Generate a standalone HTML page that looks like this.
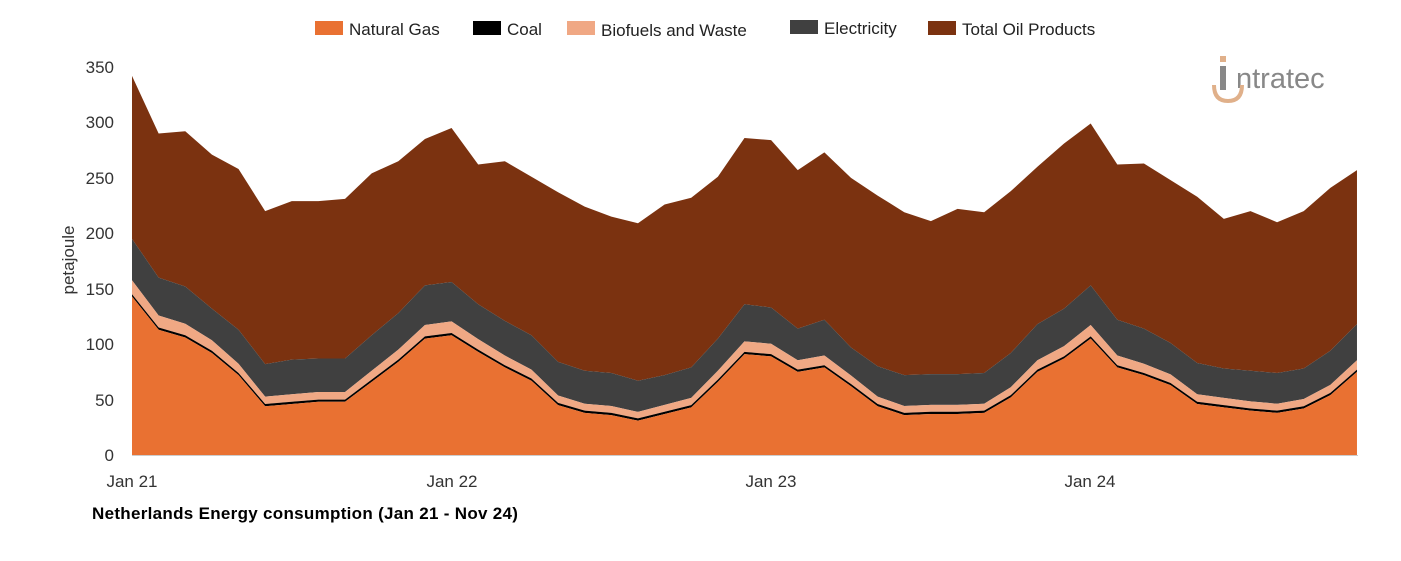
<!DOCTYPE html>
<html><head><meta charset="utf-8"><style>
html,body{margin:0;padding:0;background:#fff;}
svg{display:block;font-family:"Liberation Sans",sans-serif;}
</style></head><body>
<svg id="s" width="1401" height="561" viewBox="0 0 1401 561" xmlns="http://www.w3.org/2000/svg">
<g font-size="17" fill="#222">
<rect x="315" y="21" width="28" height="14" fill="#E97132"/><text x="349" y="35">Natural Gas</text>
<rect x="473" y="21" width="28" height="14" fill="#000"/><text x="507" y="35">Coal</text>
<rect x="567" y="21" width="28" height="14" fill="#F0A884"/><text x="601" y="36">Biofuels and Waste</text>
<rect x="790" y="20" width="28" height="14" fill="#404040"/><text x="824" y="34">Electricity</text>
<rect x="928" y="21" width="28" height="14" fill="#7B3210"/><text x="962" y="35">Total Oil Products</text>
</g>
<g id="areas"></g>
<line x1="132" y1="455.5" x2="1358" y2="455.5" stroke="#ccc" stroke-width="1"/>
<g font-size="17" fill="#333" text-anchor="end">
<text x="114" y="461">0</text><text x="114" y="406">50</text><text x="114" y="350">100</text>
<text x="114" y="295">150</text><text x="114" y="239">200</text><text x="114" y="184">250</text>
<text x="114" y="128">300</text><text x="114" y="73">350</text>
</g>
<text transform="translate(74,260) rotate(-90)" font-size="17" fill="#333" text-anchor="middle">petajoule</text>
<g font-size="17" fill="#333" text-anchor="middle">
<text x="132" y="487">Jan 21</text><text x="452" y="487">Jan 22</text><text x="771" y="487">Jan 23</text><text x="1090" y="487">Jan 24</text>
</g>
<text x="92" y="519" font-size="17" fill="#000" font-weight="bold" letter-spacing="0.3">Netherlands Energy consumption (Jan 21 - Nov 24)</text>
<g>
<text x="1236" y="88" font-size="29" fill="#888">ntratec</text>
<rect x="1220" y="66" width="6" height="24" fill="#888"/>
<rect x="1220" y="56" width="6" height="6" fill="#E0B08A"/>
<path d="M1214 85 q0 16 14 16 q14 0 14 -16" fill="none" stroke="#E0B08A" stroke-width="4"/>
</g>
</svg>
<script>
var tot=[342,290,292,271,258,220,229,229,231,254,265,285,295,262,265,251,237,224,215,209,226,232,251,286,284,257,273,250,234,219,211,222,219,238,260,281,299,262,263,248,233,213,220,210,220,241,257];
var ele=[195,160,152,132,113,82,86,87,87,108,128,153,156,136,121,108,84,76,74,67,72,79,105,136,133,114,122,97,80,72,73,73,74,92,118,132,153,122,114,101,83,78,76,74,78,94,118];
var gas=[143,113,106,92,72,44,46,48,48,66,84,105,108,93,79,67,45,38,36,31,37,43,66,91,89,75,79,62,44,36,37,37,38,52,75,87,105,79,72,63,46,43,40,38,42,54,75];
var coal=gas.map(g=>g+2);
var bio=coal.map((c,i)=>c+4+0.06*gas[i]);
function X(i){return 132+i*26.63;}
function Y(v){return 455-v*1.1086;}
function area(top,bot,col){
 var d="M"+X(0)+","+Y(top[0]);
 for(var i=1;i<top.length;i++)d+="L"+X(i)+","+Y(top[i]);
 for(var i=bot.length-1;i>=0;i--)d+="L"+X(i)+","+Y(bot[i]);
 return '<path d="'+d+'Z" fill="'+col+'"/>';
}
var z=tot.map(()=>0);
document.getElementById("areas").innerHTML=
 area(tot,ele,"#7B3210")+area(ele,bio,"#404040")+area(bio,coal,"#F0A884")+area(coal,gas,"#000")+area(gas,z,"#E97132");
</script>
</body></html>
